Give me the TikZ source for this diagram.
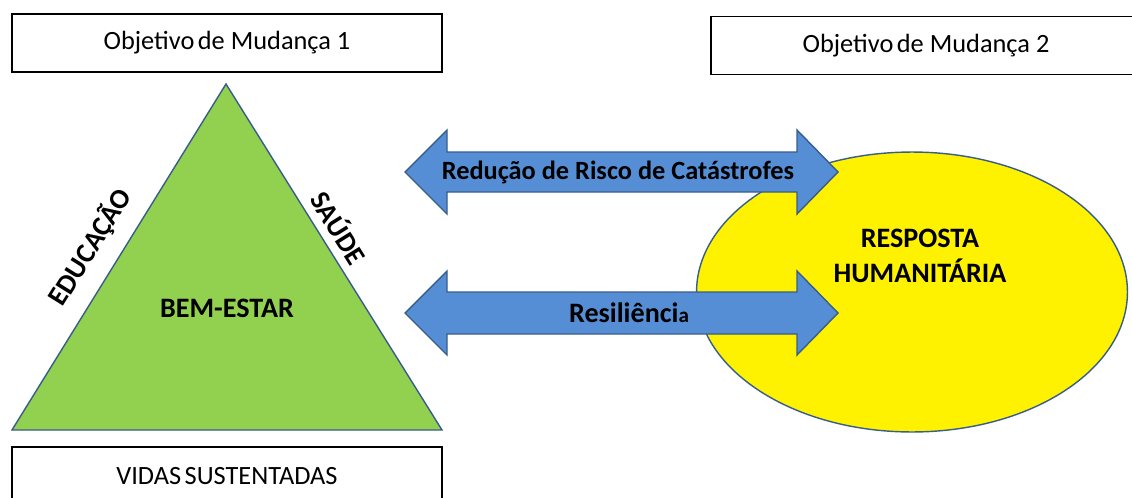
\documentclass[tikz,border=0pt]{standalone}
\usepackage{fontspec}
\setmainfont{Carlito}
\usetikzlibrary{shapes.geometric,positioning}
\definecolor{leafgreen}{HTML}{92D050}
\definecolor{edgeblue}{HTML}{385D8A}
\definecolor{arrowblue}{HTML}{558ED5}
\tikzset{%
	goalbox/.style   = {draw, line width=1.1pt, rectangle, minimum width=8.6cm, minimum height=1.16cm, text centered, font=\fontsize{15}{18}\selectfont},
	boldtext/.style  = {font=\bfseries\fontsize{16}{20}\selectfont, text=black},
	bigarrow/.style  = {fill=arrowblue, draw=edgeblue, line width=0.8pt},
	waypoint/.style  = {coordinate},
}

\begin{document}
\begin{tikzpicture}[x=0.02cm,y=-0.02cm]
	\useasboundingbox (0,0) rectangle (1132,497);
	% goal boxes
	\node [goalbox] (goalA) at (227,43) {Objetivo\hspace{2pt}de Mudança 1};
	\node [goalbox] (goalB) at (926,45.5) {Objetivo\hspace{2pt}de Mudança 2};
	\node [goalbox] (lives) at (227,476) {VIDAS\hspace{2pt}SUSTENTADAS};
	
	% triangle
	\node [waypoint] (tl) at (12,430) {};
	\node [waypoint] (tt) at (226,84) {};
	\node [waypoint] (tr) at (442,430) {};
	\draw [fill=leafgreen, draw=edgeblue, line width=0.8pt] (tl) -- (tt) -- (tr) -- cycle;
	\node [boldtext] (well) at (227,308) {BEM-ESTAR};
	\node [boldtext, rotate=58] (edu) at (90,247) {EDUCAÇÃO};
	\node [boldtext, rotate=-58] (health) at (340,227) {SAÚDE};
	
	% ellipse
	\node [ellipse, draw=edgeblue, fill=yellow, line width=0.8pt, minimum width=8.62cm, minimum height=5.6cm, inner sep=0pt] (resp) at (912,292) {};
	\node [boldtext, align=center] (resptext) at (920,256) {RESPOSTA\\HUMANITÁRIA};
	
	% arrows
	\draw [bigarrow] (405,172) -- (447,130) -- (447,152) -- (797,152) -- (797,130) -- (838,172)
		-- (797,214) -- (797,192) -- (447,192) -- (447,214) -- cycle;
	\draw [bigarrow] (405,313) -- (447,271) -- (447,292) -- (797,292) -- (797,271) -- (838,313)
		-- (797,355) -- (797,334) -- (447,334) -- (447,355) -- cycle;
	\node [boldtext, font=\bfseries\fontsize{15}{18}\selectfont] (risk) at (618,172) {Redução de Risco de Catástrofes};
	\node [boldtext] (resil) at (629,313) {Resiliênci{\fontsize{12}{14}\selectfont a}};
\end{tikzpicture}
\end{document}
